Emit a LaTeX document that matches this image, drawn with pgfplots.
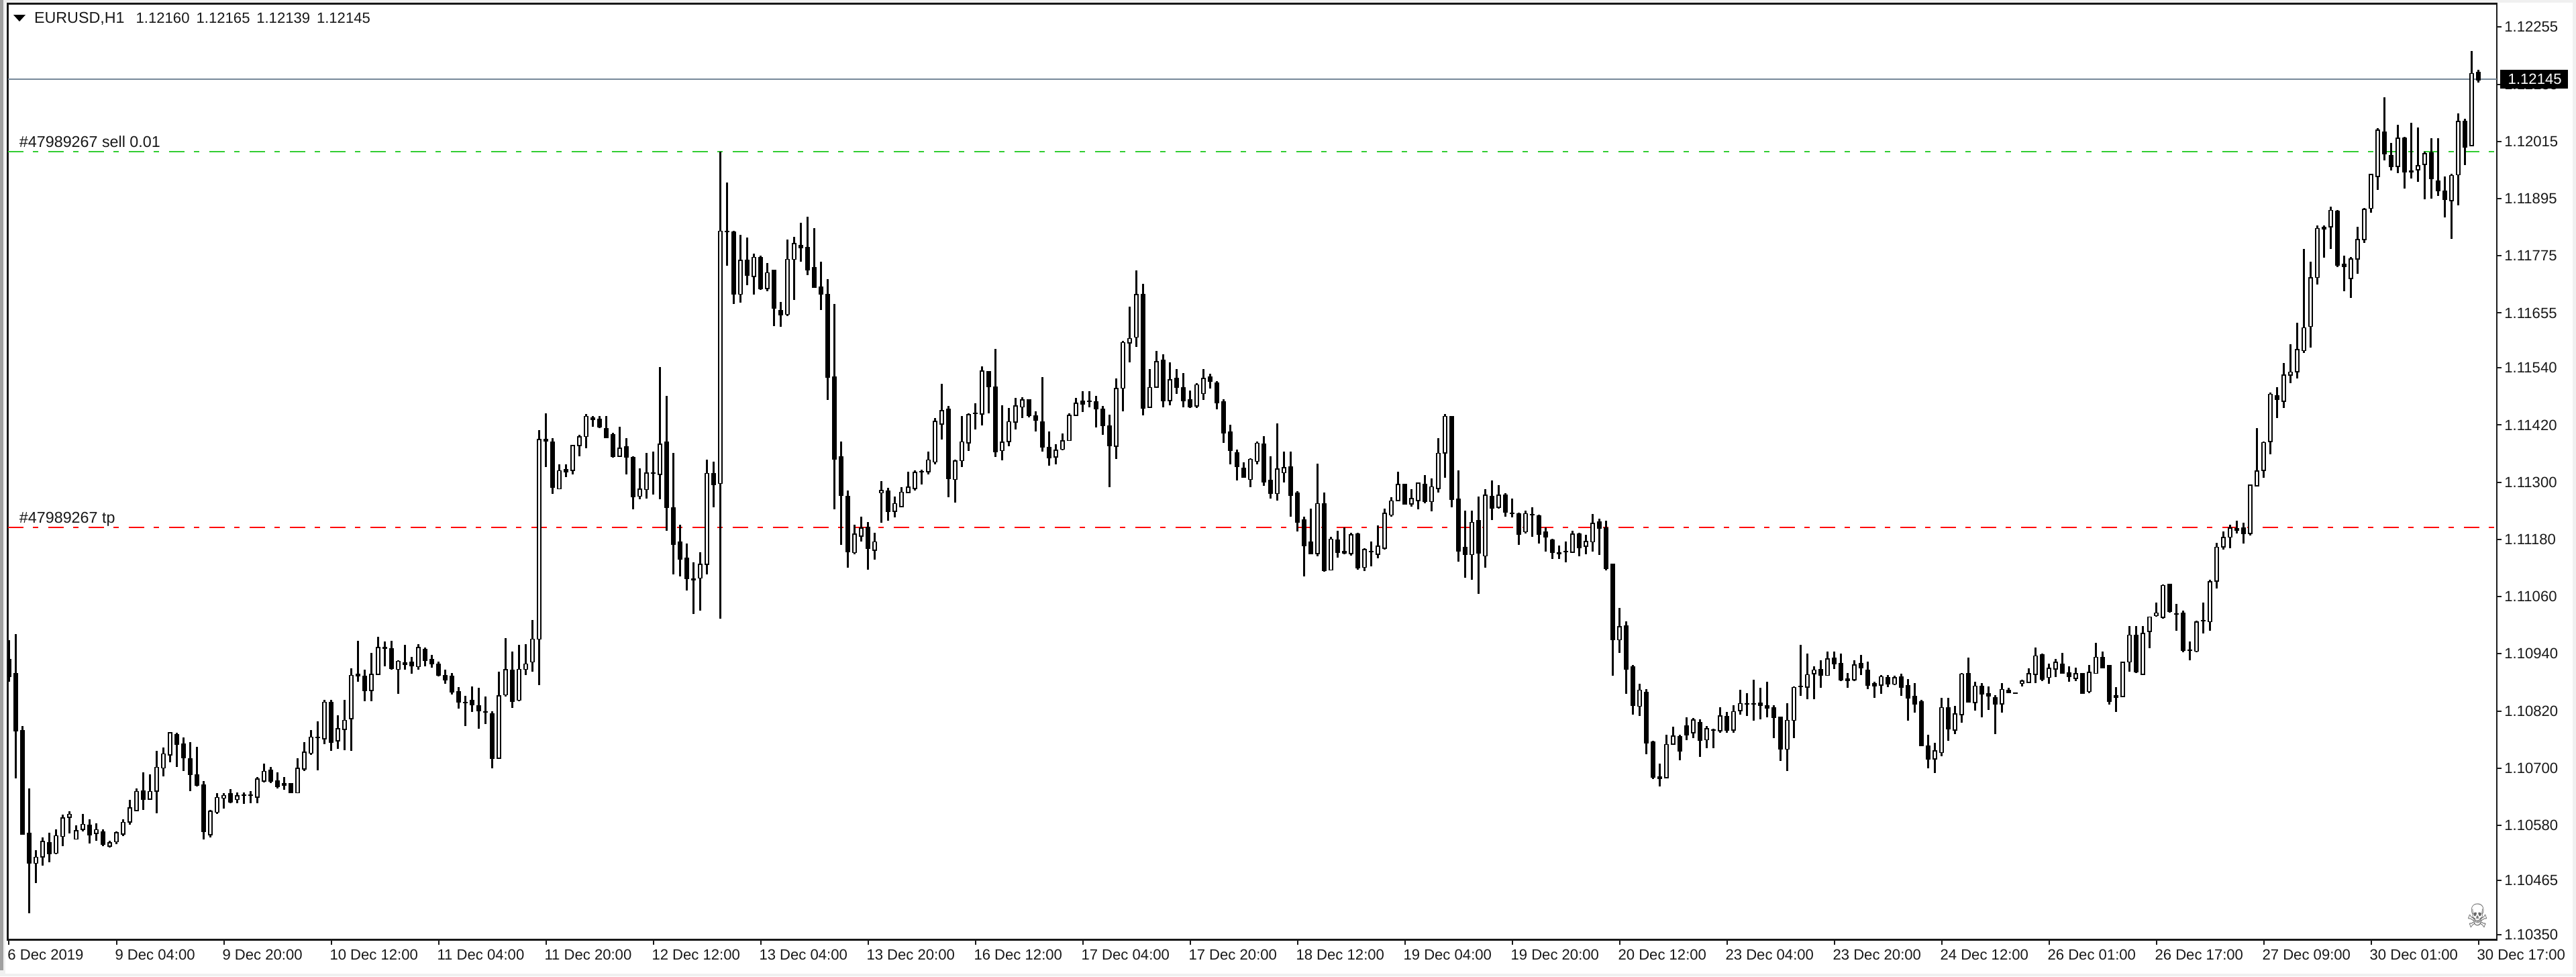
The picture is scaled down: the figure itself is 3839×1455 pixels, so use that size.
\documentclass[border=0pt]{standalone}
\usepackage{fontspec}
\setmainfont{Liberation Sans}
\newfontfamily\symfont{DejaVu Sans}
\usepackage{pgfplots}
\usepackage{pgfplotstable}
\pgfplotsset{compat=1.18}
\definecolor{windowgray}{HTML}{F0F0F0}
\definecolor{stripegray}{HTML}{A0A0A0}
\definecolor{askline}{HTML}{778899}
\definecolor{limeline}{HTML}{32CD32}
\pgfplotstableread{
i o h l c
0 1.10929 1.10968 1.10881 1.10894
1 1.10900 1.10981 1.10678 1.10779
2 1.10780 1.10789 1.10560 1.10563
3 1.10564 1.10657 1.10395 1.10502
4 1.10502 1.10528 1.10459 1.10515
5 1.10515 1.10554 1.10495 1.10547
6 1.10545 1.10564 1.10502 1.10521
7 1.10521 1.10571 1.10519 1.10558
8 1.10557 1.10602 1.10537 1.10596
9 1.10597 1.10609 1.10563 1.10604
10 1.10553 1.10580 1.10550 1.10571
11 1.10572 1.10604 1.10568 1.10583
12 1.10581 1.10593 1.10542 1.10560
13 1.10563 1.10584 1.10547 1.10571
14 1.10567 1.10572 1.10536 1.10540
15 1.10537 1.10547 1.10533 1.10544
16 1.10545 1.10568 1.10541 1.10564
17 1.10563 1.10593 1.10558 1.10588
18 1.10587 1.10634 1.10582 1.10617
19 1.10612 1.10657 1.10609 1.10652
20 1.10652 1.10691 1.10613 1.10634
21 1.10635 1.10687 1.10634 1.10652
22 1.10652 1.10737 1.10606 1.10702
23 1.10700 1.10743 1.10683 1.10730
24 1.10728 1.10775 1.10712 1.10775
25 1.10772 1.10775 1.10702 1.10751
26 1.10751 1.10764 1.10694 1.10722
27 1.10721 1.10754 1.10652 1.10687
28 1.10686 1.10745 1.10662 1.10665
29 1.10666 1.10673 1.10550 1.10567
30 1.10560 1.10613 1.10554 1.10610
31 1.10608 1.10648 1.10604 1.10639
32 1.10638 1.10647 1.10615 1.10644
33 1.10648 1.10656 1.10627 1.10630
34 1.10635 1.10649 1.10626 1.10643
35 1.10643 1.10649 1.10625 1.10644
36 1.10643 1.10652 1.10627 1.10644
37 1.10640 1.10682 1.10626 1.10678
38 1.10673 1.10710 1.10670 1.10694
39 1.10697 1.10702 1.10669 1.10673
40 1.10674 1.10691 1.10658 1.10662
41 1.10668 1.10682 1.10655 1.10665
42 1.10668 1.10668 1.10648 1.10649
43 1.10648 1.10721 1.10647 1.10699
44 1.10699 1.10754 1.10694 1.10734
45 1.10732 1.10780 1.10728 1.10766
46 1.10764 1.10798 1.10696 1.10765
47 1.10763 1.10843 1.10750 1.10840
48 1.10839 1.10843 1.10736 1.10754
49 1.10757 1.10811 1.10740 1.10783
50 1.10783 1.10844 1.10738 1.10802
51 1.10804 1.10909 1.10736 1.10895
52 1.10898 1.10967 1.10881 1.10894
53 1.10894 1.10906 1.10841 1.10864
54 1.10864 1.10942 1.10841 1.10898
55 1.10898 1.10976 1.10895 1.10955
56 1.10953 1.10966 1.10913 1.10955
57 1.10951 1.10967 1.10907 1.10909
58 1.10909 1.10926 1.10856 1.10926
59 1.10922 1.10959 1.10906 1.10919
60 1.10924 1.10933 1.10898 1.10916
61 1.10913 1.10960 1.10906 1.10953
62 1.10950 1.10953 1.10913 1.10926
63 1.10929 1.10937 1.10911 1.10920
64 1.10920 1.10924 1.10893 1.10896
65 1.10896 1.10907 1.10877 1.10887
66 1.10894 1.10900 1.10855 1.10861
67 1.10861 1.10870 1.10825 1.10839
68 1.10839 1.10852 1.10789 1.10840
69 1.10844 1.10872 1.10818 1.10835
70 1.10832 1.10868 1.10783 1.10822
71 1.10819 1.10851 1.10792 1.10818
72 1.10814 1.10819 1.10700 1.10721
73 1.10722 1.10903 1.10721 1.10853
74 1.10853 1.10973 1.10851 1.10906
75 1.10906 1.10945 1.10827 1.10841
76 1.10843 1.10959 1.10841 1.10908
77 1.10909 1.10960 1.10896 1.10920
78 1.10924 1.11011 1.10903 1.10972
79 1.10971 1.11410 1.10874 1.11390
80 1.11390 1.11445 1.11332 1.11386
81 1.11386 1.11392 1.11275 1.11290
82 1.11287 1.11338 1.11285 1.11325
83 1.11326 1.11338 1.11311 1.11322
84 1.11325 1.11379 1.11316 1.11377
85 1.11377 1.11400 1.11354 1.11396
86 1.11396 1.11443 1.11371 1.11439
87 1.11435 1.11439 1.11417 1.11432
88 1.11434 1.11439 1.11413 1.11417
89 1.11414 1.11439 1.11393 1.11394
90 1.11400 1.11403 1.11351 1.11354
91 1.11356 1.11417 1.11354 1.11373
92 1.11375 1.11393 1.11316 1.11353
93 1.11353 1.11354 1.11243 1.11271
94 1.11271 1.11329 1.11264 1.11286
95 1.11286 1.11362 1.11266 1.11321
96 1.11319 1.11364 1.11274 1.11320
97 1.11317 1.11541 1.11264 1.11381
98 1.11385 1.11481 1.11198 1.11247
99 1.11247 1.11362 1.11106 1.11171
100 1.11174 1.11211 1.11102 1.11138
101 1.11142 1.11171 1.11073 1.11099
102 1.11098 1.11132 1.11024 1.11097
103 1.11099 1.11153 1.11031 1.11128
104 1.11128 1.11347 1.11106 1.11319
105 1.11319 1.11343 1.11247 1.11296
106 1.11298 1.11994 1.11014 1.11828
107 1.11827 1.11929 1.11754 1.11826
108 1.11826 1.11828 1.11674 1.11695
109 1.11695 1.11819 1.11677 1.11766
110 1.11766 1.11813 1.11713 1.11735
111 1.11733 1.11779 1.11694 1.11773
112 1.11773 1.11776 1.11703 1.11707
113 1.11708 1.11760 1.11701 1.11741
114 1.11745 1.11746 1.11628 1.11665
115 1.11662 1.11678 1.11626 1.11653
116 1.11652 1.11809 1.11648 1.11768
117 1.11768 1.11815 1.11683 1.11801
118 1.11799 1.11845 1.11762 1.11794
119 1.11793 1.11857 1.11735 1.11747
120 1.11751 1.11833 1.11708 1.11709
121 1.11711 1.11763 1.11662 1.11695
122 1.11695 1.11726 1.11473 1.11521
123 1.11522 1.11674 1.11243 1.11349
124 1.11354 1.11386 1.11168 1.11273
125 1.11271 1.11282 1.11120 1.11155
126 1.11153 1.11211 1.11149 1.11192
127 1.11188 1.11227 1.11176 1.11205
128 1.11206 1.11217 1.11116 1.11162
129 1.11158 1.11194 1.11137 1.11176
130 1.11277 1.11302 1.11215 1.11282
131 1.11282 1.11288 1.11219 1.11239
132 1.11240 1.11270 1.11226 1.11256
133 1.11249 1.11290 1.11247 1.11279
134 1.11279 1.11322 1.11277 1.11290
135 1.11288 1.11325 1.11282 1.11322
136 1.11322 1.11326 1.11295 1.11324
137 1.11322 1.11364 1.11316 1.11347
138 1.11343 1.11434 1.11338 1.11428
139 1.11423 1.11506 1.11390 1.11452
140 1.11453 1.11460 1.11268 1.11307
141 1.11307 1.11347 1.11257 1.11346
142 1.11345 1.11439 1.11332 1.11385
143 1.11384 1.11445 1.11366 1.11443
144 1.11445 1.11466 1.11411 1.11446
145 1.11444 1.11543 1.11419 1.11534
146 1.11532 1.11533 1.11444 1.11500
147 1.11501 1.11579 1.11353 1.11364
148 1.11367 1.11462 1.11346 1.11385
149 1.11386 1.11456 1.11376 1.11428
150 1.11426 1.11477 1.11411 1.11460
151 1.11458 1.11478 1.11434 1.11473
152 1.11473 1.11473 1.11436 1.11440
153 1.11440 1.11449 1.11406 1.11431
154 1.11427 1.11520 1.11364 1.11375
155 1.11373 1.11407 1.11334 1.11351
156 1.11353 1.11380 1.11337 1.11368
157 1.11370 1.11402 1.11367 1.11388
158 1.11388 1.11444 1.11387 1.11441
159 1.11441 1.11477 1.11439 1.11466
160 1.11471 1.11491 1.11447 1.11465
161 1.11470 1.11491 1.11457 1.11471
162 1.11471 1.11481 1.11415 1.11456
163 1.11454 1.11460 1.11400 1.11419
164 1.11419 1.11441 1.11289 1.11377
165 1.11377 1.11518 1.11349 1.11498
166 1.11498 1.11597 1.11449 1.11594
167 1.11593 1.11669 1.11552 1.11602
168 1.11605 1.11745 1.11584 1.11695
169 1.11695 1.11716 1.11440 1.11457
170 1.11458 1.11537 1.11457 1.11500
171 1.11500 1.11576 1.11499 1.11554
172 1.11558 1.11568 1.11457 1.11473
173 1.11471 1.11551 1.11461 1.11515
174 1.11519 1.11537 1.11486 1.11500
175 1.11500 1.11529 1.11457 1.11473
176 1.11473 1.11492 1.11456 1.11458
177 1.11460 1.11508 1.11456 1.11505
178 1.11487 1.11537 1.11473 1.11519
179 1.11522 1.11528 1.11496 1.11512
180 1.11508 1.11512 1.11453 1.11466
181 1.11470 1.11474 1.11383 1.11405
182 1.11406 1.11420 1.11338 1.11367
183 1.11363 1.11368 1.11303 1.11334
184 1.11330 1.11342 1.11309 1.11311
185 1.11307 1.11350 1.11289 1.11349
186 1.11345 1.11386 1.11338 1.11383
187 1.11381 1.11396 1.11292 1.11302
188 1.11304 1.11354 1.11266 1.11277
189 1.11277 1.11424 1.11261 1.11329
190 1.11321 1.11364 1.11299 1.11332
191 1.11333 1.11364 1.11228 1.11273
192 1.11278 1.11281 1.11197 1.11217
193 1.11222 1.11227 1.11102 1.11168
194 1.11175 1.11244 1.11151 1.11151
195 1.11151 1.11339 1.11145 1.11256
196 1.11256 1.11279 1.11112 1.11115
197 1.11116 1.11185 1.11116 1.11181
198 1.11180 1.11198 1.11142 1.11154
199 1.11155 1.11205 1.11149 1.11151
200 1.11150 1.11194 1.11146 1.11190
201 1.11192 1.11194 1.11117 1.11120
202 1.11122 1.11162 1.11113 1.11159
203 1.11155 1.11175 1.11124 1.11156
204 1.11150 1.11210 1.11141 1.11167
205 1.11162 1.11244 1.11159 1.11235
206 1.11232 1.11269 1.11227 1.11262
207 1.11262 1.11322 1.11260 1.11296
208 1.11296 1.11296 1.11254 1.11254
209 1.11254 1.11286 1.11249 1.11266
210 1.11262 1.11300 1.11243 1.11299
211 1.11296 1.11315 1.11256 1.11260
212 1.11260 1.11308 1.11239 1.11291
213 1.11288 1.11393 1.11278 1.11362
214 1.11362 1.11443 1.11309 1.11439
215 1.11439 1.11439 1.11247 1.11266
216 1.11266 1.11325 1.11133 1.11158
217 1.11164 1.11240 1.11099 1.11149
218 1.11149 1.11241 1.11095 1.11217
219 1.11219 1.11270 1.11066 1.11151
220 1.11146 1.11286 1.11120 1.11273
221 1.11271 1.11304 1.11220 1.11247
222 1.11247 1.11294 1.11245 1.11273
223 1.11273 1.11277 1.11228 1.11238
224 1.11237 1.11266 1.11226 1.11236
225 1.11235 1.11236 1.11168 1.11192
226 1.11197 1.11241 1.11193 1.11235
227 1.11232 1.11248 1.11185 1.11233
228 1.11230 1.11232 1.11171 1.11192
229 1.11196 1.11205 1.11155 1.11185
230 1.11180 1.11181 1.11139 1.11153
231 1.11154 1.11167 1.11139 1.11151
232 1.11155 1.11175 1.11132 1.11154
233 1.11154 1.11198 1.11151 1.11192
234 1.11193 1.11194 1.11145 1.11164
235 1.11167 1.11189 1.11149 1.11177
236 1.11175 1.11234 1.11154 1.11214
237 1.11219 1.11224 1.11147 1.11205
238 1.11205 1.11219 1.11115 1.11120
239 1.11128 1.11128 1.10894 1.10970
240 1.10971 1.11036 1.10942 1.10998
241 1.10998 1.11008 1.10856 1.10908
242 1.10913 1.10916 1.10813 1.10831
243 1.10831 1.10877 1.10809 1.10865
244 1.10861 1.10866 1.10729 1.10754
245 1.10755 1.10758 1.10677 1.10681
246 1.10682 1.10710 1.10661 1.10678
247 1.10681 1.10770 1.10679 1.10751
248 1.10751 1.10787 1.10750 1.10768
249 1.10767 1.10770 1.10717 1.10736
250 1.10789 1.10807 1.10759 1.10770
251 1.10775 1.10805 1.10763 1.10802
252 1.10797 1.10802 1.10724 1.10760
253 1.10760 1.10789 1.10742 1.10783
254 1.10780 1.10783 1.10742 1.10781
255 1.10780 1.10828 1.10775 1.10811
256 1.10809 1.10818 1.10774 1.10780
257 1.10780 1.10832 1.10774 1.10819
258 1.10821 1.10864 1.10813 1.10836
259 1.10836 1.10857 1.10810 1.10837
260 1.10836 1.10885 1.10800 1.10837
261 1.10838 1.10868 1.10802 1.10832
262 1.10832 1.10882 1.10806 1.10827
263 1.10828 1.10832 1.10763 1.10807
264 1.10807 1.10807 1.10715 1.10740
265 1.10740 1.10836 1.10694 1.10801
266 1.10801 1.10872 1.10763 1.10870
267 1.10872 1.10959 1.10852 1.10873
268 1.10870 1.10941 1.10845 1.10896
269 1.10899 1.10913 1.10845 1.10907
270 1.10907 1.10926 1.10869 1.10895
271 1.10895 1.10945 1.10894 1.10930
272 1.10932 1.10945 1.10908 1.10921
273 1.10920 1.10941 1.10883 1.10885
274 1.10889 1.10900 1.10869 1.10885
275 1.10886 1.10926 1.10883 1.10917
276 1.10921 1.10937 1.10895 1.10911
277 1.10906 1.10924 1.10866 1.10875
278 1.10878 1.10882 1.10848 1.10874
279 1.10874 1.10896 1.10856 1.10892
280 1.10890 1.10895 1.10870 1.10877
281 1.10877 1.10894 1.10874 1.10891
282 1.10892 1.10898 1.10852 1.10870
283 1.10874 1.10887 1.10800 1.10848
284 1.10851 1.10878 1.10817 1.10835
285 1.10839 1.10844 1.10746 1.10747
286 1.10747 1.10770 1.10700 1.10720
287 1.10720 1.10753 1.10690 1.10737
288 1.10733 1.10848 1.10725 1.10828
289 1.10828 1.10848 1.10757 1.10783
290 1.10781 1.10831 1.10771 1.10815
291 1.10813 1.10900 1.10796 1.10898
292 1.10899 1.10932 1.10839 1.10839
293 1.10839 1.10881 1.10821 1.10874
294 1.10874 1.10879 1.10806 1.10857
295 1.10857 1.10872 1.10822 1.10851
296 1.10848 1.10853 1.10771 1.10835
297 1.10835 1.10878 1.10817 1.10866
298 1.10864 1.10868 1.10857 1.10860
299 1.10857 1.10858 1.10857 1.10858
300 1.10877 1.10885 1.10872 1.10882
301 1.10881 1.10909 1.10878 1.10899
302 1.10898 1.10953 1.10879 1.10937
303 1.10938 1.10941 1.10883 1.10886
304 1.10890 1.10919 1.10877 1.10909
305 1.10909 1.10929 1.10891 1.10923
306 1.10919 1.10942 1.10898 1.10900
307 1.10902 1.10913 1.10881 1.10893
308 1.10889 1.10911 1.10883 1.10899
309 1.10899 1.10900 1.10856 1.10858
310 1.10861 1.10917 1.10858 1.10902
311 1.10900 1.10963 1.10898 1.10934
312 1.10934 1.10945 1.10909 1.10912
313 1.10916 1.10917 1.10834 1.10841
314 1.10849 1.10870 1.10818 1.10852
315 1.10851 1.10924 1.10849 1.10923
316 1.10924 1.10998 1.10903 1.10980
317 1.10980 1.10998 1.10899 1.10903
318 1.10899 1.10998 1.10895 1.10985
319 1.10987 1.11018 1.10951 1.11018
320 1.11021 1.11047 1.11018 1.11027
321 1.11018 1.11086 1.11014 1.11085
322 1.11085 1.11086 1.11026 1.11028
323 1.11025 1.11044 1.10989 1.11026
324 1.11026 1.11031 1.10943 1.10947
325 1.10950 1.10966 1.10926 1.10949
326 1.10945 1.11009 1.10943 1.11007
327 1.11011 1.11047 1.10983 1.11012
328 1.11007 1.11095 1.10989 1.11091
329 1.11093 1.11173 1.11077 1.11164
330 1.11164 1.11197 1.11159 1.11184
331 1.11185 1.11211 1.11162 1.11204
332 1.11204 1.11219 1.11192 1.11200
333 1.11205 1.11215 1.11172 1.11192
334 1.11192 1.11295 1.11188 1.11294
335 1.11294 1.11414 1.11292 1.11325
336 1.11325 1.11386 1.11309 1.11384
337 1.11386 1.11488 1.11358 1.11486
338 1.11483 1.11499 1.11434 1.11475
339 1.11470 1.11550 1.11456 1.11525
340 1.11526 1.11589 1.11508 1.11532
341 1.11532 1.11635 1.11518 1.11579
342 1.11576 1.11790 1.11571 1.11624
343 1.11628 1.11762 1.11583 1.11730
344 1.11730 1.11839 1.11715 1.11833
345 1.11835 1.11839 1.11771 1.11832
346 1.11836 1.11878 1.11789 1.11871
347 1.11870 1.11871 1.11752 1.11756
348 1.11758 1.11776 1.11701 1.11754
349 1.11728 1.11772 1.11687 1.11769
350 1.11769 1.11836 1.11737 1.11810
351 1.11810 1.11875 1.11802 1.11874
352 1.11874 1.11947 1.11866 1.11945
353 1.11942 1.12043 1.11913 1.12040
354 1.12035 1.12107 1.11975 1.11990
355 1.11986 1.12012 1.11954 1.11963
356 1.11963 1.12050 1.11948 1.12022
357 1.12022 1.12024 1.11916 1.11951
358 1.11952 1.12054 1.11937 1.11953
359 1.11956 1.12044 1.11930 1.11965
360 1.11967 1.11994 1.11894 1.11990
361 1.11992 1.12022 1.11895 1.11937
362 1.11933 1.12022 1.11900 1.11913
363 1.11912 1.11942 1.11856 1.11894
364 1.11892 1.11947 1.11810 1.11945
365 1.11945 1.12074 1.11881 1.12057
366 1.12057 1.12063 1.11965 1.12003
367 1.12007 1.12205 1.12005 1.12159
368 1.12160 1.12165 1.12139 1.12145
}\candles
\begin{document}
\begin{tikzpicture}[x=0.2pt,y=-0.2pt]
\useasboundingbox (0,0) rectangle (3839,1455);
\fill[windowgray] (0,0) rectangle (3839,1455);
\fill[white] (8,4) rectangle (3834,1451);
\fill[stripegray] (0,0) rectangle (5,1446);
\begin{axis}[
  at={(2.34pt,-280.14pt)}, anchor=south west,
  scale only axis, width=741.86pt, height=279.08pt,
  xmin=-0.18, xmax=370.75, ymin=1.103396, ymax=1.123043,
  clip=true,
  axis line style={line width=0.5pt,black!90},
  tick style={line width=0.4pt,black!90},
  tick align=outside,
  xtick pos=bottom, ytick pos=right, yticklabel pos=right,
  major tick length=1.45pt,
  xtick={0,16,32,48,64,80,96,112,128,144,160,176,192,208,224,240,256,272,288,304,320,336,352,368},
  xticklabels={6 Dec 2019,9 Dec 04:00,9 Dec 20:00,10 Dec 12:00,11 Dec 04:00,11 Dec 20:00,12 Dec 12:00,13 Dec 04:00,13 Dec 20:00,16 Dec 12:00,17 Dec 04:00,17 Dec 20:00,18 Dec 12:00,19 Dec 04:00,19 Dec 20:00,20 Dec 12:00,23 Dec 04:00,23 Dec 20:00,24 Dec 12:00,26 Dec 01:00,26 Dec 17:00,27 Dec 09:00,30 Dec 01:00,30 Dec 17:00},
  ytick={1.10350,1.10465,1.10580,1.10700,1.10820,1.10940,1.11060,1.11180,1.11300,1.11420,1.11540,1.11655,1.11775,1.11895,1.12015,1.12135,1.12255},
  yticklabels={1.10350,1.10465,1.10580,1.10700,1.10820,1.10940,1.11060,1.11180,1.11300,1.11420,1.11540,1.11655,1.11775,1.11895,1.12015,1.12135,1.12255},
  tick label style={font=\fontsize{4.42pt}{5pt}\selectfont,text=black!90,inner sep=0pt},
  xticklabel style={anchor=north west,xshift=-0.6pt,yshift=-1.2pt},
  yticklabel style={anchor=west,xshift=0.6pt},
]
% horizontal order and price lines
\addplot[forget plot,askline,line width=0.4pt] coordinates {(-0.18,1.12145)(370.75,1.12145)};
\addplot[forget plot,limeline,line width=0.44pt,dash pattern=on 4.6pt off 2.9pt on 1.6pt off 2.9pt] coordinates {(-0.18,1.11994)(370.75,1.11994)};
\addplot[forget plot,red,line width=0.44pt,dash pattern=on 4.6pt off 2.9pt on 1.6pt off 2.9pt] coordinates {(-0.18,1.11205)(370.75,1.11205)};
% wicks
\addplot[forget plot,draw=none,mark=none,
  error bars/.cd,y dir=both,y explicit,error mark=none,
  error bar style={draw=black,line width=0.46pt}]
  table[x=i,y=c,
    y error plus expr=\thisrow{h}-\thisrow{c},
    y error minus expr=\thisrow{c}-\thisrow{l}] {\candles};
% bodies, black
\addplot[forget plot,draw=none,mark=none,
  error bars/.cd,y dir=both,y explicit,error mark=none,
  error bar style={draw=black,line width=1.55pt}]
  table[x=i,y expr=(\thisrow{o}+\thisrow{c})/2,
    y error expr=abs(\thisrow{o}-\thisrow{c})/2+0.00001] {\candles};
% bodies of rising candles, white inside
\addplot[forget plot,draw=none,mark=none,
  error bars/.cd,y dir=both,y explicit,error mark=none,
  error bar style={draw=white,line width=0.62pt}]
  table[x=i,y expr={\thisrow{c}-\thisrow{o}>=0.000035 ? (\thisrow{o}+\thisrow{c})/2 : nan},
    y error expr=abs(\thisrow{o}-\thisrow{c})/2-0.000012] {\candles};
\end{axis}
\tikzset{lab/.style={anchor=base west,inner sep=0pt,font=\fontsize{4.42pt}{5pt}\selectfont,text=black!90},
  labw/.style={lab,font=\fontsize{4.66pt}{5pt}\selectfont}}
\fill[black] (20,22) -- (38,22) -- (29,32) -- cycle;
\node[labw] at (50,34) {EURUSD,H1};
\node[lab] at (201.7,34) {1.12160};
\node[lab] at (291.7,34) {1.12165};
\node[lab] at (381.3,34) {1.12139};
\node[lab] at (471,34) {1.12145};
\node[labw] at (28,219) {\#47989267 sell 0.01};
\node[labw] at (28,779) {\#47989267 tp};
\fill[black] (3725.7,104) rectangle (3827,132);
\node[lab,text=white,anchor=west] at (3736.7,118) {1.12145};
\node[inner sep=0pt,text=black!60,font=\symfont\fontsize{7.2pt}{8pt}\selectfont] at (3693,1365) {\scalebox{1}[1.35]{☠}};
\end{tikzpicture}
\end{document}
